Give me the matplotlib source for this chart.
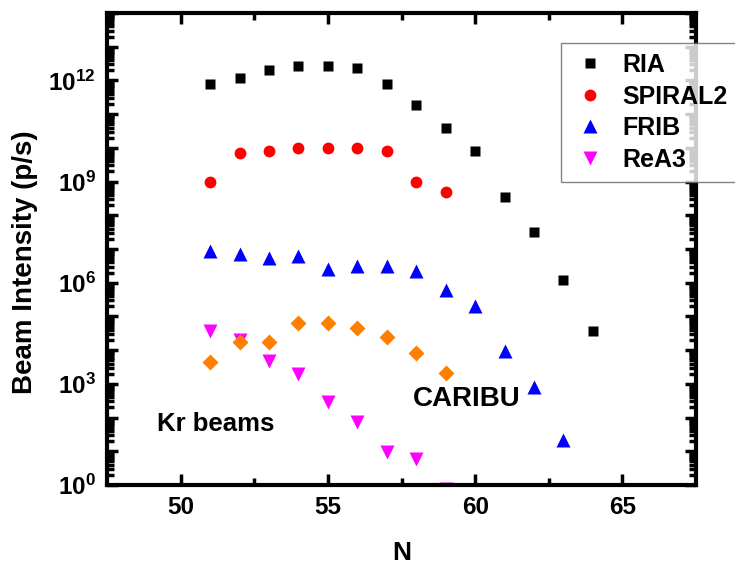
import numpy as np
import matplotlib
matplotlib.use("Agg")
import matplotlib.pyplot as plt
from matplotlib.ticker import LogLocator, FixedLocator, NullFormatter, FuncFormatter

plt.rcParams['font.family'] = ['Liberation Sans', 'DejaVu Sans']
plt.rcParams['font.weight'] = 'bold'
plt.rcParams['mathtext.fontset'] = 'custom'
plt.rcParams['mathtext.rm'] = 'Liberation Sans:bold'
plt.rcParams['mathtext.bf'] = 'Liberation Sans:bold'
plt.rcParams['mathtext.it'] = 'Liberation Sans:bold'

# Neutron number N and beam intensities (p/s) for Kr isotopes
n_ria = [51, 52, 53, 54, 55, 56, 57, 58, 59, 60, 61, 62, 63, 64]
ria = [8e11, 1.2e12, 2e12, 2.7e12, 2.7e12, 2.4e12, 8e11, 1.9e11, 4e10, 7.8e9,
       3.5e8, 3.3e7, 1.2e6, 3.6e4]

n_spiral2 = [51, 52, 53, 54, 55, 56, 57, 58, 59]
spiral2 = [1e9, 7e9, 7.8e9, 1e10, 1e10, 1e10, 7.8e9, 1e9, 5e8]

n_frib = [51, 52, 53, 54, 55, 56, 57, 58, 59, 60, 61, 62, 63]
frib = [9e6, 7e6, 5.5e6, 6e6, 2.5e6, 3.2e6, 3.2e6, 2.2e6, 5.9e5, 2e5, 9.4e3, 780, 22]

n_rea3 = [51, 52, 53, 54, 55, 56, 57, 58, 59]
rea3 = [3.7e4, 2e4, 4.8e3, 1.9e3, 280, 75, 9.7, 5.8, 0.75]

n_caribu = [51, 52, 53, 54, 55, 56, 57, 58, 59]
caribu = [4.4e3, 1.7e4, 1.7e4, 6.5e4, 6.3e4, 4.5e4, 2.4e4, 8.2e3, 2.1e3]

fig = plt.figure(figsize=(7.35, 5.65), dpi=100)
ax = fig.add_axes([107/735, 1 - 485/565, (696 - 107)/735, (485 - 13)/565])

ax.plot(n_ria, ria, 's', color='black', ms=7.5, mec='none', label='RIA')
ax.plot(n_spiral2, spiral2, 'o', color='#ff0000', ms=8.5, mec='none', label='SPIRAL2')
ax.plot(n_frib, frib, '^', color='#0000ff', ms=9.5, mec='none', label='FRIB')
ax.plot(n_rea3, rea3, 'v', color='#ff00ff', ms=9.5, mec='none', label='ReA3')
ax.plot(n_caribu, caribu, 'D', color='#ff8000', ms=8, mec='none')

ax.set_yscale('log')
ax.set_xlim(47.5, 67.5)
ax.set_ylim(1, 1e14)

ax.xaxis.set_major_locator(FixedLocator([50, 55, 60, 65]))
ax.xaxis.set_minor_locator(FixedLocator([52.5, 57.5, 62.5]))
ax.yaxis.set_major_locator(LogLocator(base=10, numticks=20))
ax.yaxis.set_minor_locator(LogLocator(base=10, subs=np.arange(2, 10), numticks=200))
ax.yaxis.set_minor_formatter(NullFormatter())


def ylab(v, pos):
    e = int(round(np.log10(v)))
    return r'$10^{%d}$' % e if e % 3 == 0 else ''


ax.yaxis.set_major_formatter(FuncFormatter(ylab))

for s in ax.spines.values():
    s.set_linewidth(3)
ax.tick_params(which='both', direction='in', top=True, right=True, width=2.5,
               labelsize=17.5)
ax.tick_params(which='major', length=8, pad=8)
ax.tick_params(which='minor', length=5)
for lbl in ax.get_xticklabels() + ax.get_yticklabels():
    lbl.set_fontweight('bold')

ax.set_xlabel('N', fontsize=19, fontweight='bold', va='center')
ax.xaxis.set_label_coords(0.5, -0.144)
ax.set_ylabel('Beam Intensity (p/s)', fontsize=20, fontweight='bold', va='center')
ax.yaxis.set_label_coords(-0.139, 0.472)

ax.text(57.9, 10**2.54, 'CARIBU', fontsize=20, fontweight='bold',
        ha='left', va='center')
ax.text(49.2, 10**1.8, 'Kr beams', fontsize=18.5, fontweight='bold',
        ha='left', va='center')

leg = ax.legend(loc='upper left', bbox_to_anchor=(0.771, 0.936), borderaxespad=0,
                frameon=True, fancybox=False, prop={'size': 18, 'weight': 'bold'},
                handletextpad=0.55, labelspacing=0.3, borderpad=0.4,
                handlelength=1.5)
leg.get_frame().set_edgecolor('#666666')
leg.get_frame().set_linewidth(1)
leg.set_zorder(10)

fig.savefig('out.png', dpi=100)
